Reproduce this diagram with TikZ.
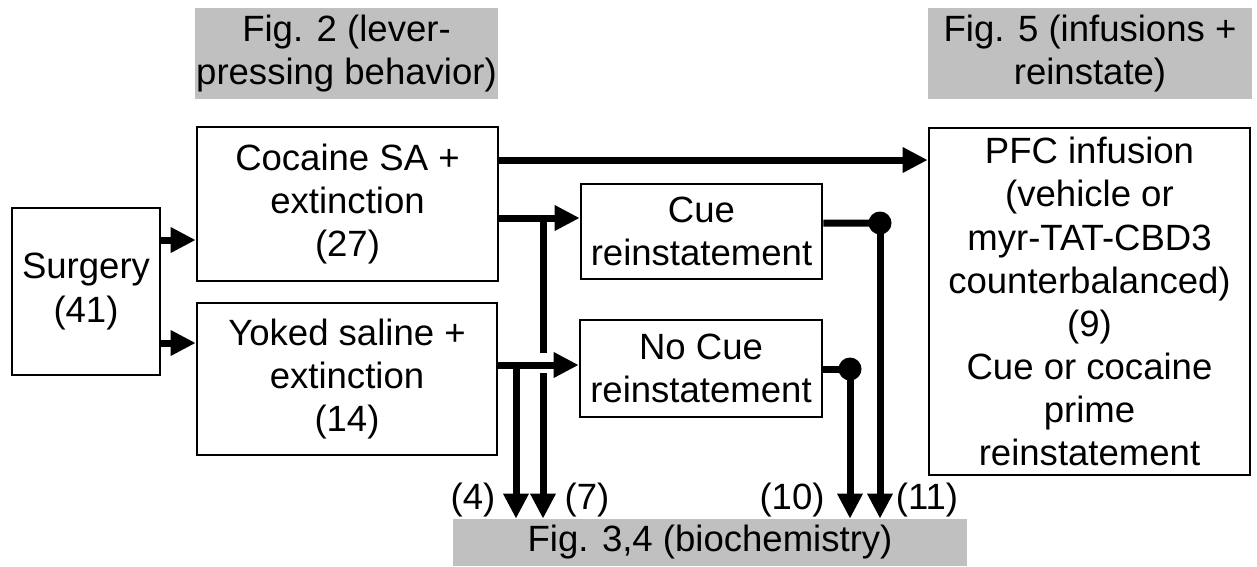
\documentclass[tikz,border=0pt]{standalone}
\usepackage{fontspec}
\setmainfont{Liberation Sans}
\usetikzlibrary{arrows.meta,calc}
\definecolor{figgray}{RGB}{192,192,192}
\begin{document}
\begin{tikzpicture}[x=0.02cm,y=-0.02cm,
  every node/.style={font=\fontsize{20.8}{24.5}\selectfont, inner sep=0pt, align=center},
  box/.style={draw, line width=1.5pt, fill=white},
  figbox/.style={fill=figgray},
  arr/.style={line width=0.14cm, -{Triangle[length=0.5cm,width=0.48cm]}},
  thickline/.style={line width=0.14cm},
  dotnode/.style={circle, fill=black, minimum size=0.46cm, inner sep=0pt},
  lab/.style={}
]
\useasboundingbox (0,0) rectangle (1257,566);

% grey figure boxes
\node[figbox, minimum width=6.06cm, minimum height=1.82cm] (fig2) at (346.5,53.5) {Fig. 2 (lever-\\pressing behavior)};
\node[figbox, minimum width=6.48cm, minimum height=1.82cm] (fig5) at (1090,53.5) {Fig. 5 (infusions +\\reinstate)};
\node[figbox, minimum width=10.28cm, minimum height=0.94cm] (fig34) at (710,542.5) {Fig. 3,4 (biochemistry)};

% boxes
\node[box, minimum width=2.96cm, minimum height=3.34cm] (surg) at (86,291.5) {Surgery\\(41)};
\node[box, minimum width=6.02cm, minimum height=3.08cm] (coc) at (347.5,204) {Cocaine SA +\\extinction\\(27)};
\node[box, minimum width=6.0cm, minimum height=3.04cm] (yok) at (347,379) {Yoked saline +\\extinction\\(14)};
\node[box, minimum width=4.82cm, minimum height=1.9cm] (cue) at (701.5,231.5) {Cue\\reinstatement};
\node[box, minimum width=4.84cm, minimum height=1.94cm] (nocue) at (701,368.5) {No Cue\\reinstatement};
\node[box, minimum width=6.42cm, minimum height=6.94cm] (pfc) at (1089.5,301.5) {PFC infusion\\(vehicle or\\myr-TAT-CBD3\\counterbalanced)\\(9)\\Cue or cocaine\\prime\\reinstatement};

% surgery arrows
\draw[arr] ([yshift=1.03cm]surg.east) -- ([yshift=1.03cm]surg.east -| coc.west);
\draw[arr] ([yshift=-1.03cm]surg.east) -- ([yshift=-1.03cm]surg.east -| yok.west);

% cocaine arrows
\draw[arr] ([yshift=0.88cm]coc.east) -- ([yshift=0.88cm]coc.east -| pfc.west);
\draw[arr] ([yshift=-0.28cm]coc.east) -- ([yshift=-0.28cm]coc.east -| cue.west);
\draw[arr] ([yshift=0.28cm]yok.east) -- ([yshift=0.28cm]yok.east -| nocue.west);

% junctions
\coordinate (j7) at (543,218);
\coordinate (g1) at (543,353);
\coordinate (g2) at (543,373);
\coordinate (j4) at (516,365);
\draw[thickline] (j7) -- (g1);
\draw[arr] (g2) -- (g2 |- fig34.north);
\draw[arr] (j4) -- (j4 |- fig34.north);

% reinstatement outputs
\node[dotnode] (d1) at (880,223) {};
\node[dotnode] (d2) at (850,369) {};
\draw[thickline] ([yshift=0.17cm]cue.east) -- (d1.center);
\draw[thickline] (nocue.east |- d2) -- (d2.center);
\draw[arr] (d1.center) -- (d1.center |- fig34.north);
\draw[arr] (d2.center) -- (d2.center |- fig34.north);

% labels
\node[lab] (l4) at (473,500) {(4)};
\node[lab] (l7) at (587,500) {(7)};
\node[lab] (l10) at (792,500) {(10)};
\node[lab] (l11) at (927,500) {(11)};
\end{tikzpicture}
\end{document}
